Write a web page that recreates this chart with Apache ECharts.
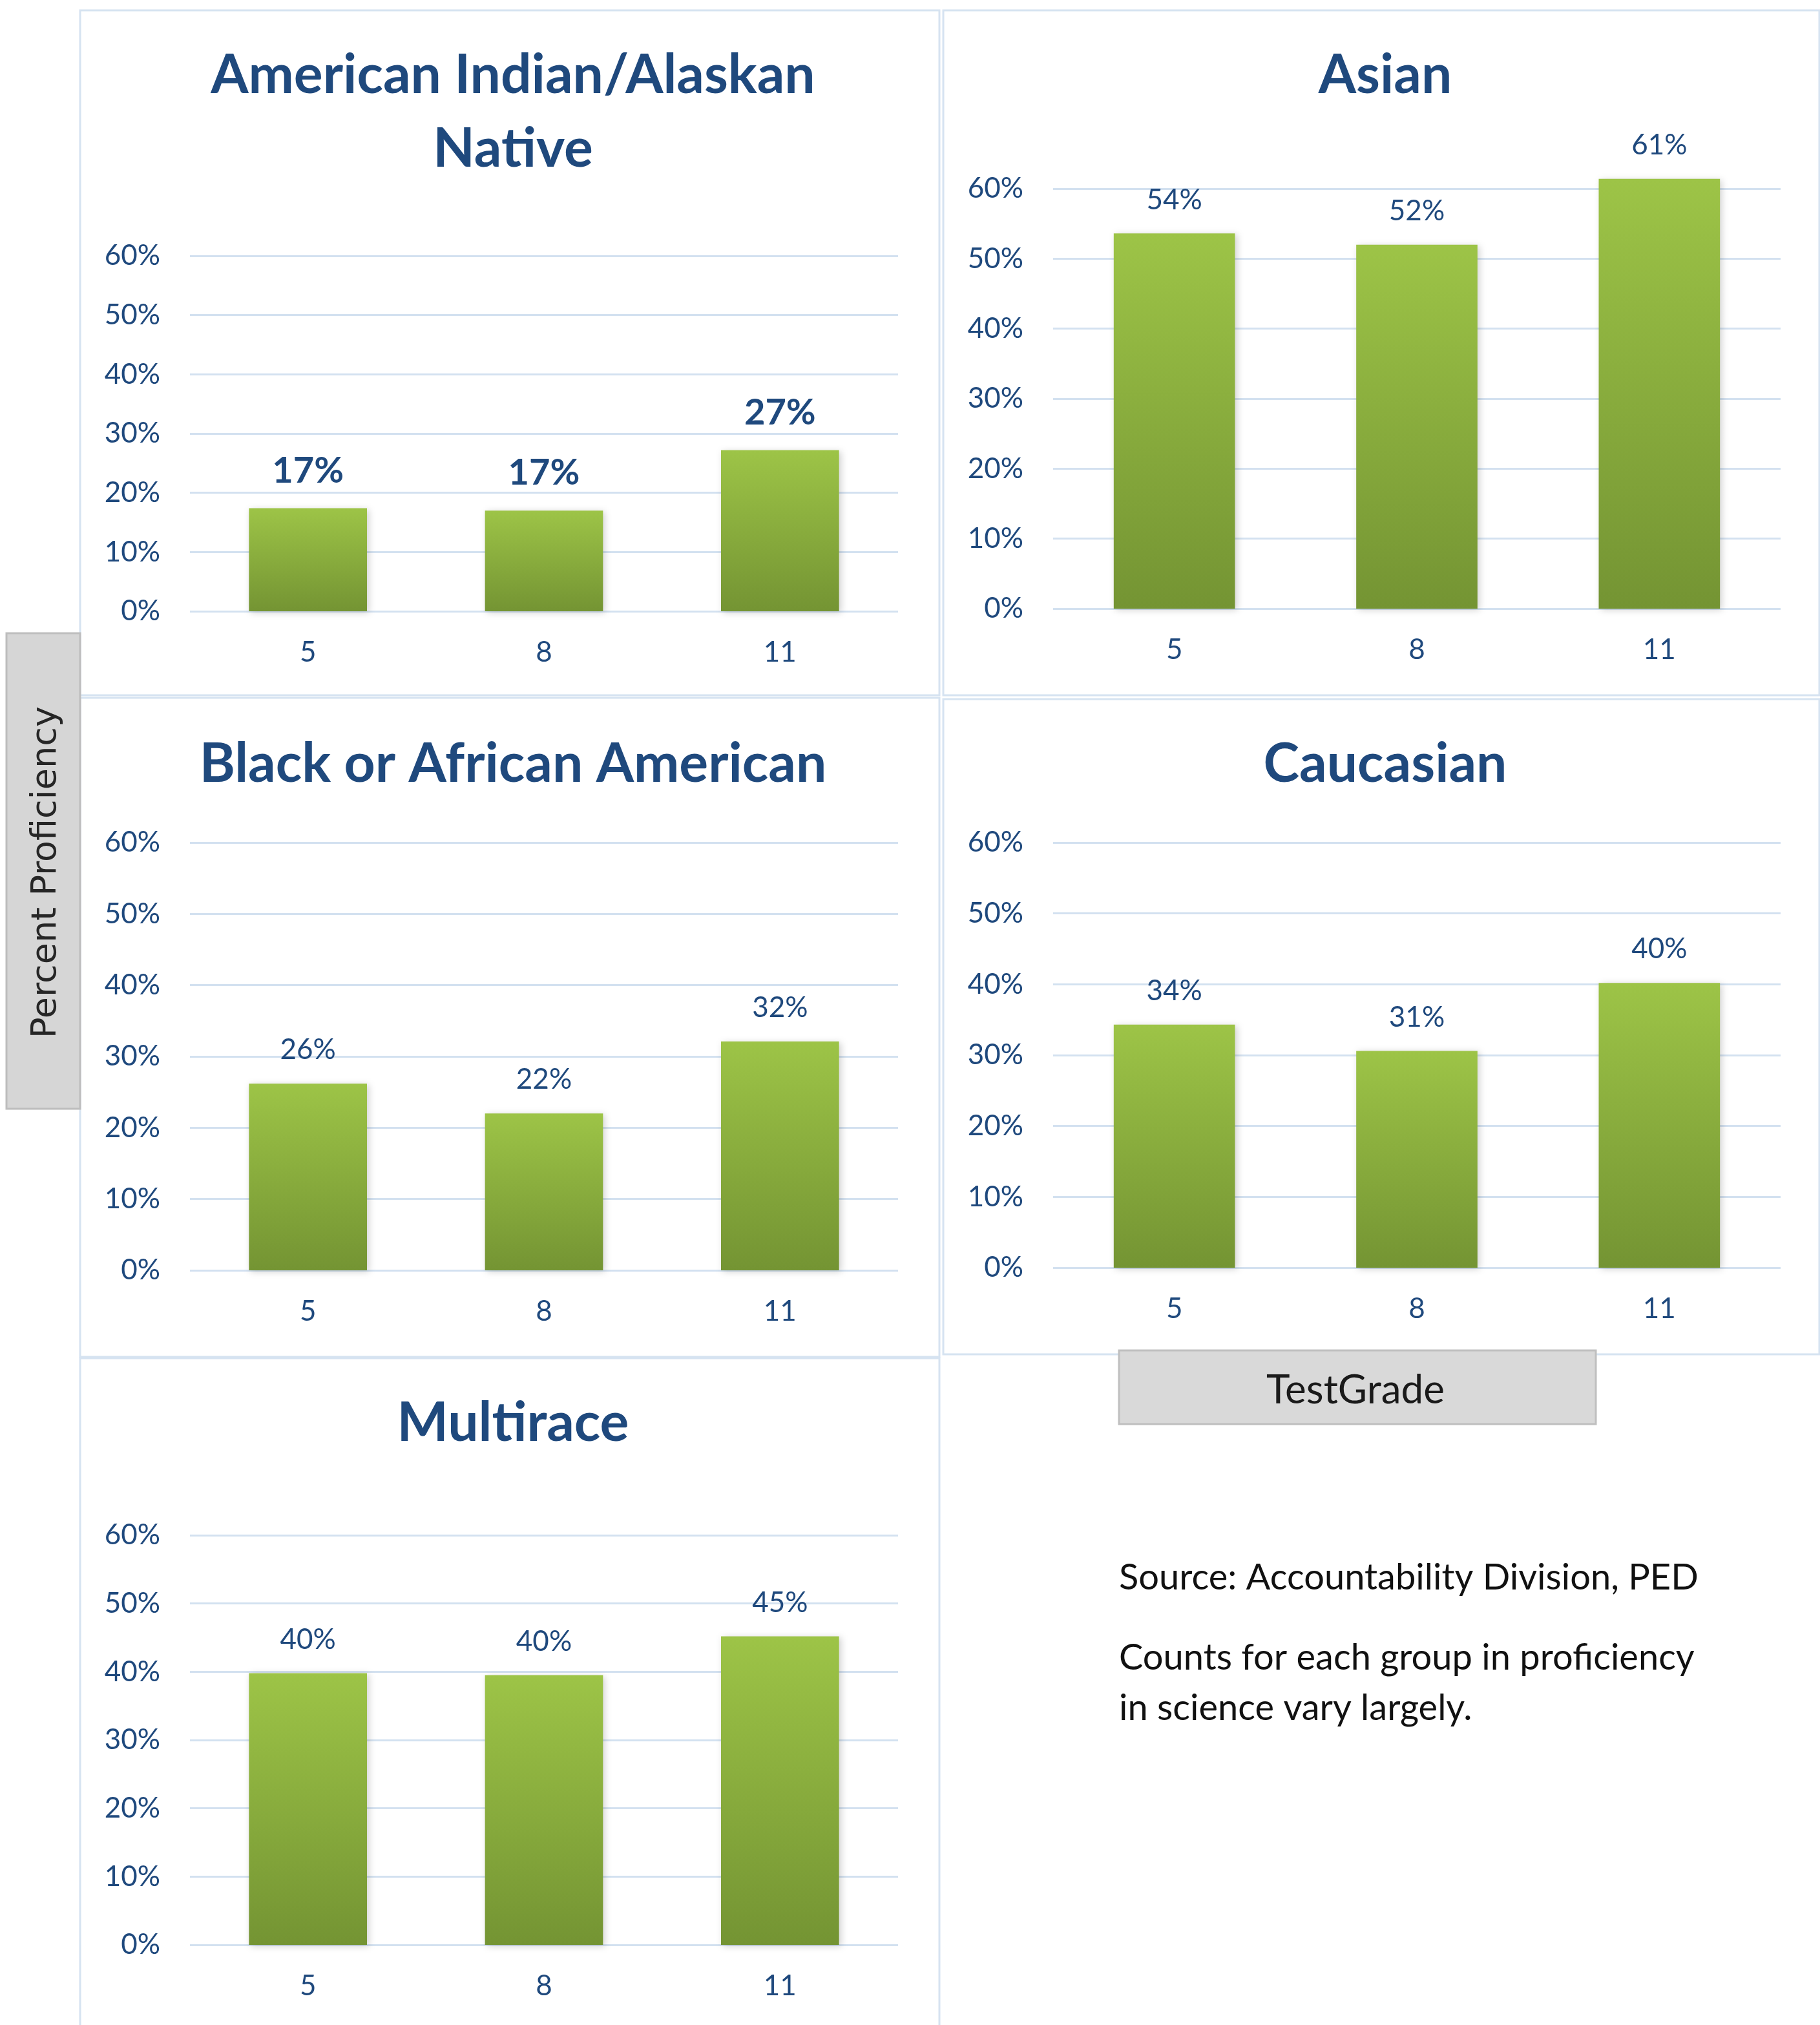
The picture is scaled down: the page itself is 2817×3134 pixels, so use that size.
<!DOCTYPE html>
<html>
<head>
<meta charset="utf-8">
<title>Percent Proficiency by TestGrade</title>
<script src="https://cdn.jsdelivr.net/npm/echarts@6/dist/echarts.min.js"></script>
<style>
	html, body { margin: 0; padding: 0; background: #ffffff; }
	#chart { width: 2817px; height: 3134px; }
</style>
</head>
<body>
<div id="chart"></div>
<script>
// grades on the x axis, same for every panel
var grades = [ '5', '8', '11' ];

// panel titles
var groupNames = [ 'American Indian/Alaskan\nNative', 'Asian',
		'Black or African American', 'Caucasian', 'Multirace' ];

// proficiency per grade
var amIndian = [ 0.174, 0.170, 0.272 ];
var asian = [ 0.536, 0.520, 0.614 ];
var black = [ 0.262, 0.220, 0.321 ];
var caucasian = [ 0.343, 0.306, 0.402 ];
var multirace = [ 0.398, 0.395, 0.452 ];

var yTicks = [ 0, 0.1, 0.2, 0.3, 0.4, 0.5, 0.6 ];

var sourceLines = [ 'Source: Accountability Division, PED',
		'Counts for each group in proficiency', 'in science vary largely.' ];

var blue = '#1f497d';
var font = 'Lato, "Open Sans", sans-serif';

// grid boxes : left, top, width, height
var grids = [ {
	left : 294, top : 396, width : 1096, height : 550
}, {
	left : 1630, top : 292, width : 1126, height : 650
}, {
	left : 294, top : 1304, width : 1096, height : 662
}, {
	left : 1630, top : 1304, width : 1126, height : 658
}, {
	left : 294, top : 2376, width : 1096, height : 634
} ];

var titlePos = [ [ 789, 55 ], [ 2139, 55 ], [ 789, 1121 ], [ 2139, 1121 ], [ 789, 2141 ] ];
var allData = [ amIndian, asian, black, caucasian, multirace ];

var barColor = new echarts.graphic.LinearGradient(0, 0, 0, 1, [ {
	offset : 0, color : '#9dc447'
}, {
	offset : 1, color : '#749433'
} ]);

var titles = [], xAxes = [], yAxes = [], series = [];
for (var i = 0; i < 5; i++) {
	titles.push({
		text : groupNames[i],
		left : titlePos[i][0],
		top : titlePos[i][1],
		textAlign : 'center',
		textStyle : {
			fontFamily : font,
			fontWeight : 'bold',
			fontSize : 84,
			lineHeight : 114,
			color : blue
		}
	});
	xAxes.push({
		type : 'category',
		gridIndex : i,
		data : grades,
		axisLine : { show : false },
		axisTick : { show : false },
		axisLabel : {
			margin : 42,
			fontFamily : font,
			fontSize : 44,
			color : blue
		}
	});
	yAxes.push({
		type : 'value',
		gridIndex : i,
		min : yTicks[0],
		max : yTicks[yTicks.length - 1],
		interval : 0.1,
		axisLine : { show : false },
		axisTick : { show : false },
		splitLine : {
			lineStyle : { color : '#d3e1f0', width : 3 }
		},
		axisLabel : {
			margin : 46,
			fontFamily : font,
			fontSize : 44,
			color : blue,
			formatter : function(v) {
				return Math.round(v * 100) + '%';
			}
		}
	});
	var first = (i == 0);
	series.push({
		type : 'bar',
		xAxisIndex : i,
		yAxisIndex : i,
		data : allData[i],
		barWidth : '50%',
		clip : false,
		itemStyle : {
			color : barColor,
			shadowBlur : 10,
			shadowOffsetX : 3,
			shadowOffsetY : 2,
			shadowColor : 'rgba(0, 0, 0, 0.18)'
		},
		label : {
			show : true,
			position : 'top',
			distance : 30,
			fontFamily : font,
			fontSize : first ? 56 : 44,
			fontWeight : first ? 'bold' : 'normal',
			color : blue,
			formatter : function(p) {
				return Math.round(p.value * 100) + '%';
			}
		}
	});
}

var border = '#d6e3f1';
var graphics = [
	// panel frames
	{ type : 'rect', z : 0, shape : { x : 124, y : 16, width : 1330, height : 1060 },
		style : { fill : 'none', stroke : border, lineWidth : 3 } },
	{ type : 'rect', z : 0, shape : { x : 1460, y : 16, width : 1356, height : 1060 },
		style : { fill : 'none', stroke : border, lineWidth : 3 } },
	{ type : 'rect', z : 0, shape : { x : 124, y : 1080, width : 1330, height : 1020 },
		style : { fill : 'none', stroke : border, lineWidth : 3 } },
	{ type : 'rect', z : 0, shape : { x : 1460, y : 1082, width : 1356, height : 1014 },
		style : { fill : 'none', stroke : border, lineWidth : 3 } },
	{ type : 'rect', z : 0, shape : { x : 124, y : 2102, width : 1330, height : 1060 },
		style : { fill : 'none', stroke : border, lineWidth : 3 } },
	// y axis name box
	{ type : 'rect', z : 5, shape : { x : 10, y : 980, width : 114, height : 736 },
		style : { fill : '#d6d6d6', stroke : '#bdbdbd', lineWidth : 3 } },
	{ type : 'text', z : 6, x : 72, y : 1350, rotation : Math.PI / 2,
		style : { text : 'Percent Proficiency', font : '54px "DejaVu Sans"', fill : '#262626',
			textAlign : 'center', textVerticalAlign : 'middle' } },
	// x axis name box
	{ type : 'rect', z : 5, shape : { x : 1732, y : 2090, width : 738, height : 114 },
		style : { fill : '#d9d9d9', stroke : '#bfbfbf', lineWidth : 3 } },
	{ type : 'text', z : 6, x : 2098, y : 2152,
		style : { text : 'TestGrade', font : '62px Lato', fill : '#1a1a1a',
			textAlign : 'center', textVerticalAlign : 'middle' } }
];
var lineY = [ 2442, 2566, 2644 ];
for (var k = 0; k < sourceLines.length; k++) {
	graphics.push({
		type : 'text', z : 6, x : 1732, y : lineY[k],
		style : { text : sourceLines[k], font : '56px Lato', fill : '#111111',
			textAlign : 'left', textVerticalAlign : 'middle' }
	});
}

option = {
	backgroundColor : '#ffffff',
	animation : false,
	title : titles,
	grid : grids,
	xAxis : xAxes,
	yAxis : yAxes,
	series : series,
	graphic : graphics
};

var myEchart = echarts.init(document.getElementById('chart'));
myEchart.setOption(option);
</script>
</body>
</html>
